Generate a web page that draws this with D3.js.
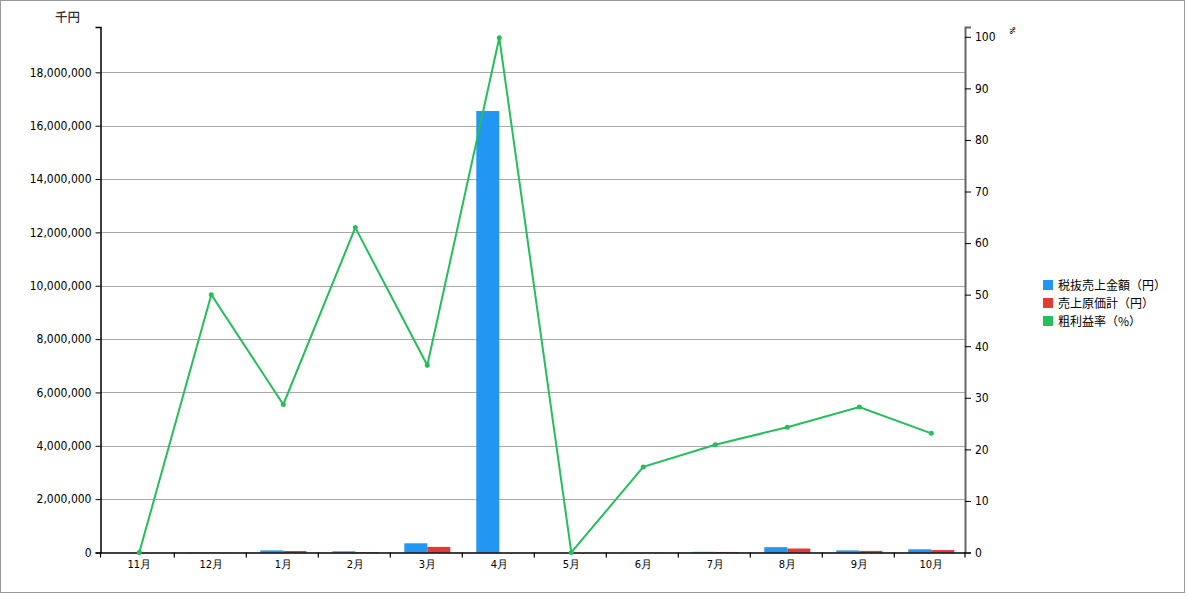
<!DOCTYPE html>
<html><head><meta charset="utf-8">
<script src="https://cdn.jsdelivr.net/npm/d3@7/dist/d3.min.js"></script>
<style>
body{margin:0;background:#fff;}
svg{display:block;}
.tick text{font-family:"Liberation Sans Narrow","DejaVu Sans Condensed",sans-serif;font-size:12px;fill:#000;}
.jp{font-family:"Noto Sans CJK JP",sans-serif;}
</style>
</head><body>
<svg id="c" width="1188" height="614"></svg>
<script>
const months = ["11月","12月","1月","2月","3月","4月","5月","6月","7月","8月","9月","10月"];
const sales = [0, 8000, 80000, 45000, 345000, 16550000, 0, 6000, 25000, 200000, 80000, 120000];
const cost = [0, 4000, 57000, 17000, 210000, 0, 0, 5000, 20000, 150000, 60000, 92000];
const margin = [0, 50.0, 28.7, 63.0, 36.3, 99.8, 0, 16.6, 20.9, 24.3, 28.2, 23.1];
const seriesNames = ["税抜売上金額（円）","売上原価計（円）","粗利益率（%）"];
const seriesColors = ["#2196F3","#E53935","#25BE5A"];
const leftTicks = [0,2000000,4000000,6000000,8000000,10000000,12000000,14000000,16000000,18000000];
const rightTicks = [0,10,20,30,40,50,60,70,80,90,100];
const leftMax = 19700000, rightMax = 101.9;

const svg = d3.select("#c");
const L = 100.5, R = 965, T = 27, B = 552.5;
const XS = 103.3, XE = 967.3;

svg.append("rect").attr("x",0.5).attr("y",0.5).attr("width",1184).attr("height",592)
  .attr("fill","#fff").attr("stroke","#999").attr("stroke-width",1);

const x0 = d3.scaleBand().domain(months).range([XS, XE]).padding(0);
const x1 = d3.scaleBand().domain([0,1]).range([0, x0.bandwidth()]).paddingInner(0).paddingOuter(0.565);
const yL = d3.scaleLinear().domain([0, leftMax]).range([B, T]);
const yR = d3.scaleLinear().domain([0, rightMax]).range([B, T]);

// gridlines
svg.append("g").selectAll("line").data(leftTicks.filter(d=>d>0)).join("line")
  .attr("x1",L).attr("x2",R).attr("y1",d=>Math.round(yL(d))+0.5).attr("y2",d=>Math.round(yL(d))+0.5)
  .attr("stroke","#aaa").attr("stroke-width",1);

// bars
const barData = [];
months.forEach((m,i)=>{
  barData.push({m, s:0, v:sales[i]});
  barData.push({m, s:1, v:cost[i]});
});
svg.append("g").selectAll("rect").data(barData).join("rect")
  .attr("x",d=>x0(d.m)+x1(d.s)).attr("width",x1.bandwidth())
  .attr("y",d=>yL(d.v)).attr("height",d=>B-yL(d.v))
  .attr("fill",d=>seriesColors[d.s]);

// axes
const gl = svg.append("g").attr("transform",`translate(${L},0)`)
  .call(d3.axisLeft(yL).tickValues(leftTicks).tickFormat(d3.format(",")).tickSize(5).tickSizeOuter(5).tickPadding(4));
const gr = svg.append("g").attr("transform",`translate(${R},0)`)
  .call(d3.axisRight(yR).tickValues(rightTicks).tickSize(6).tickSizeOuter(6).tickPadding(4));
gr.select(".domain").attr("stroke","#666").attr("stroke-width",2);
gr.selectAll(".tick line").attr("stroke","#000");
const gx = svg.append("g").attr("transform",`translate(0,${B})`)
  .call(d3.axisBottom(x0).tickSize(0).tickSizeOuter(0).tickPadding(8));
gx.selectAll(".tick text").attr("class","jp").style("font-size","11px").style("fill","#000");
gx.select(".domain").attr("d",`M${L},0.5H${R}`).attr("stroke","#000").attr("stroke-width",1.5);
// band boundary ticks
const bounds = [L].concat(months.slice(1).map(m=>x0(m)-1)).concat([R]);
svg.append("g").selectAll("line").data(bounds).join("line")
  .attr("x1",d=>d).attr("x2",d=>d)
  .attr("y1",B).attr("y2",B+5).attr("stroke","#000").attr("stroke-width",1.2);
gl.select(".domain").attr("stroke","#000").attr("stroke-width",1.5);

// line
const line = d3.line().x((d,i)=>x0(months[i])+x0.bandwidth()/2).y(d=>yR(d));
svg.append("path").datum(margin).attr("d",line).attr("fill","none")
  .attr("stroke",seriesColors[2]).attr("stroke-width",2);
svg.append("g").selectAll("circle").data(margin).join("circle")
  .attr("cx",(d,i)=>x0(months[i])+x0.bandwidth()/2).attr("cy",d=>yR(d)).attr("r",2.5)
  .attr("fill",seriesColors[2]);

// axis titles
svg.append("text").attr("class","jp").attr("x",55).attr("y",22).attr("font-size",12.5)
  .attr("font-weight",500).attr("fill","#333").text("千円");
svg.append("text").attr("x",1008).attr("y",29).attr("font-size",7).attr("font-weight","bold")
  .attr("transform","rotate(90,1010,29)").attr("font-family","DejaVu Sans").text("%");

// legend
const lg = svg.append("g").selectAll("g").data(seriesNames).join("g")
  .attr("transform",(d,i)=>`translate(1043,${280+i*18})`);
lg.append("rect").attr("width",10).attr("height",10).attr("fill",(d,i)=>seriesColors[i]);
lg.append("text").attr("class","jp").attr("x",15).attr("y",10).attr("font-size",12).attr("fill","#000").text(d=>d);
</script>
</body></html>
